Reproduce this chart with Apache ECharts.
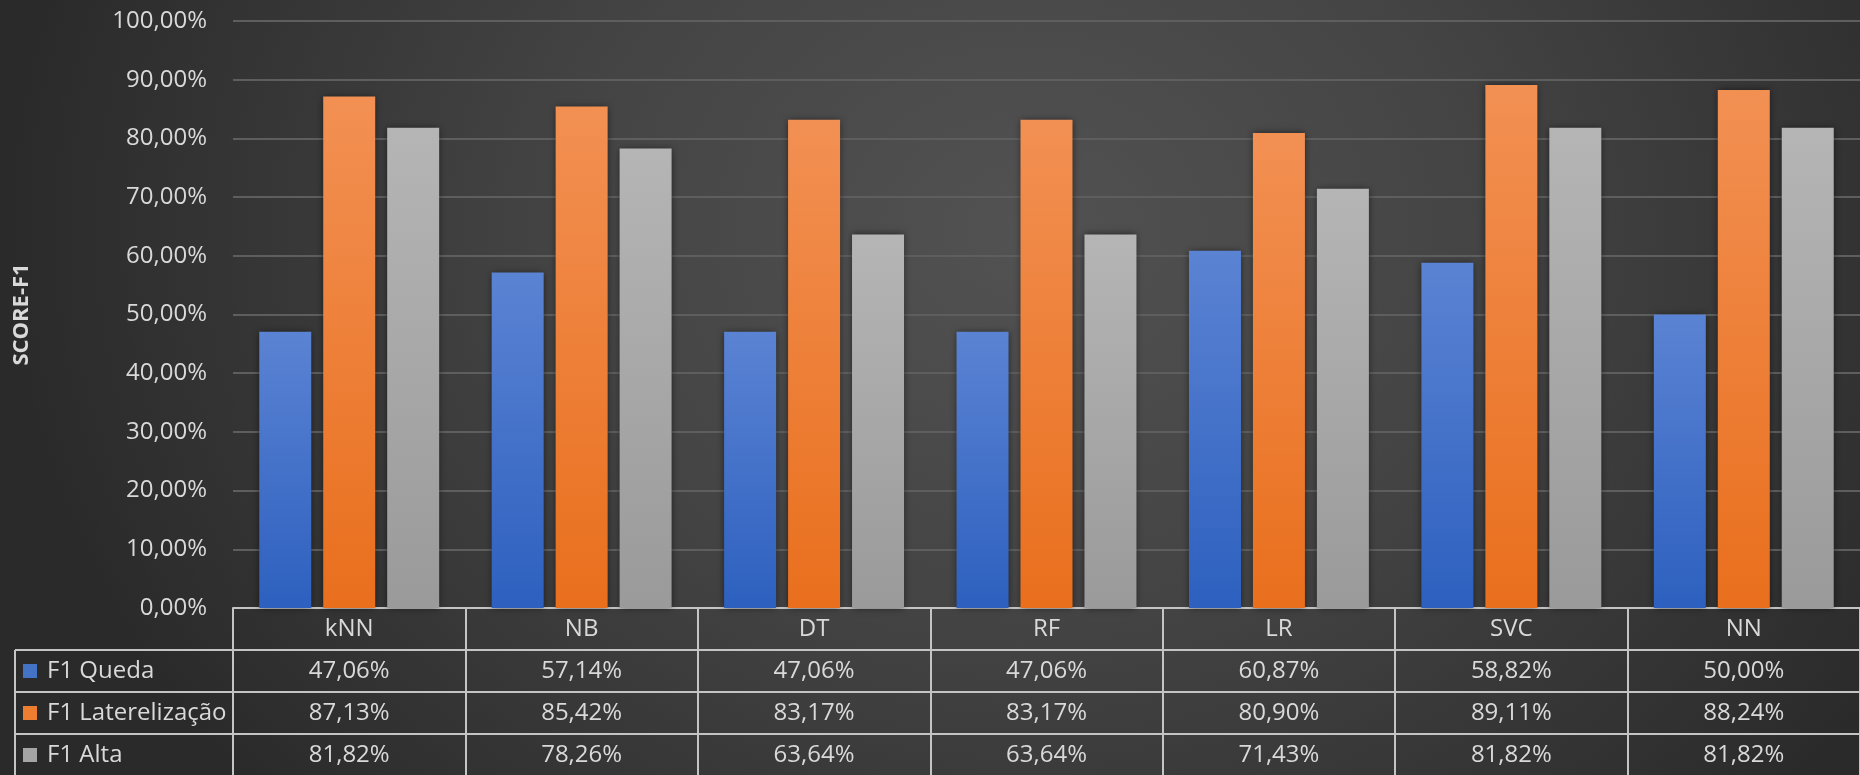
<!DOCTYPE html>
<html>
<head>
<meta charset="utf-8">
<script src="https://cdn.jsdelivr.net/npm/echarts@6/dist/echarts.min.js"></script>
<style>
  html, body { margin: 0; padding: 0; }
  #chart {
    width: 1860px; height: 775px;
    background: radial-gradient(ellipse 55% 110% at 55% 30%, #525252 0%, #444444 45%, #2a2a2a 100%);
  }
</style>
</head>
<body>
<div id="chart"></div>
<script>
// Model names (table header row / x categories)
const categories = ['kNN', 'NB', 'DT', 'RF', 'LR', 'SVC', 'NN'];
// F1 scores in percent
const f1Queda = [47.06, 57.14, 47.06, 47.06, 60.87, 58.82, 50.00];
const f1Lateralizacao = [87.13, 85.42, 83.17, 83.17, 80.90, 89.11, 88.24];
const f1Alta = [81.82, 78.26, 63.64, 63.64, 71.43, 81.82, 81.82];
const seriesNames = ['F1 Queda', 'F1 Laterelização', 'F1 Alta'];
const yTicks = { min: 0, max: 100, interval: 10 };

const pct = v => v.toFixed(2).replace('.', ',') + '%';
const FONT = '"Open Sans", "Noto Sans", sans-serif';
const TXT = '#d9d9d9';
const LINE = '#c4c4c4';

const grad = (top, bottom) => new echarts.graphic.LinearGradient(0, 0, 0, 1, [
  { offset: 0, color: top }, { offset: 1, color: bottom }
]);
const colors = [
  grad('#5b83d3', '#2d60bf'),
  grad('#f29053', '#e96f1d'),
  grad('#b5b5b5', '#9a9a9a')
];
const flatColors = ['#4472c4', '#ed7d31', '#a5a5a5'];
const seriesData = [f1Queda, f1Lateralizacao, f1Alta];

const grid = { left: 233, right: 0, top: 21, bottom: 167 };
const rowH = 42;
const tableTop = 608;

// Header row plus one table row per series, each an x-axis stacked under the plot
const xAxes = [{
  type: 'category', data: categories, position: 'bottom', offset: 0,
  axisLine: { show: true, lineStyle: { color: LINE, width: 2 } },
  axisTick: { show: true, length: rowH * 4, lineStyle: { color: LINE, width: 2 } },
  axisLabel: { color: TXT, fontSize: 24, fontFamily: FONT, margin: rowH / 2, verticalAlign: 'middle', interval: 0 }
}];
seriesData.forEach((arr, k) => {
  xAxes.push({
    type: 'category', data: categories, position: 'bottom', offset: rowH * (k + 1),
    axisLine: { show: true, lineStyle: { color: LINE, width: 2 } },
    axisTick: { show: false },
    axisLabel: {
      color: TXT, fontSize: 24, fontFamily: FONT, margin: rowH / 2, verticalAlign: 'middle', interval: 0,
      formatter: (v, i) => pct(arr[i])
    }
  });
});

const colLeft = 15;
const chart = echarts.init(document.getElementById('chart'), null, { renderer: 'canvas' });
chart.setOption({
  backgroundColor: 'transparent',
  animation: false,
  grid: grid,
  legend: {
    orient: 'vertical', left: 23, top: tableTop + rowH + (rowH - 24) / 2, padding: 0,
    itemWidth: 14, itemHeight: 14, itemGap: rowH - 24,
    icon: 'rect',
    data: seriesNames.map((n, i) => ({ name: n, itemStyle: { color: flatColors[i], shadowBlur: 0 } })),
    textStyle: { color: TXT, fontSize: 24, fontFamily: FONT, lineHeight: 24, padding: [0, 0, 0, 5] },
    selectedMode: false
  },
  xAxis: xAxes,
  yAxis: {
    type: 'value', min: yTicks.min, max: yTicks.max, interval: yTicks.interval,
    name: 'SCORE-F1', nameLocation: 'middle', nameGap: 200, nameRotate: 90,
    nameTextStyle: { color: TXT, fontSize: 22, fontWeight: 'bold', fontFamily: FONT },
    axisLine: { show: false }, axisTick: { show: false },
    axisLabel: { color: TXT, fontSize: 24, fontFamily: FONT, margin: 26, formatter: v => pct(v) },
    splitLine: { lineStyle: { color: '#5e5e5e', width: 2 } }
  },
  graphic: [
    // legend column borders of the data table
    { type: 'line', shape: { x1: colLeft, y1: tableTop + rowH, x2: colLeft, y2: 780 }, style: { stroke: LINE, lineWidth: 2 } },
    { type: 'line', shape: { x1: colLeft, y1: tableTop + rowH, x2: 233, y2: tableTop + rowH }, style: { stroke: LINE, lineWidth: 2 } },
    { type: 'line', shape: { x1: colLeft, y1: tableTop + rowH * 2, x2: 233, y2: tableTop + rowH * 2 }, style: { stroke: LINE, lineWidth: 2 } },
    { type: 'line', shape: { x1: colLeft, y1: tableTop + rowH * 3, x2: 233, y2: tableTop + rowH * 3 }, style: { stroke: LINE, lineWidth: 2 } }
  ],
  series: seriesData.map((arr, i) => ({
    name: seriesNames[i], type: 'bar', data: arr, xAxisIndex: 0,
    barWidth: 52, barGap: '23%',
    itemStyle: { color: colors[i], shadowColor: 'rgba(0,0,0,0.55)', shadowBlur: 7 }
  }))
});
</script>
</body>
</html>
